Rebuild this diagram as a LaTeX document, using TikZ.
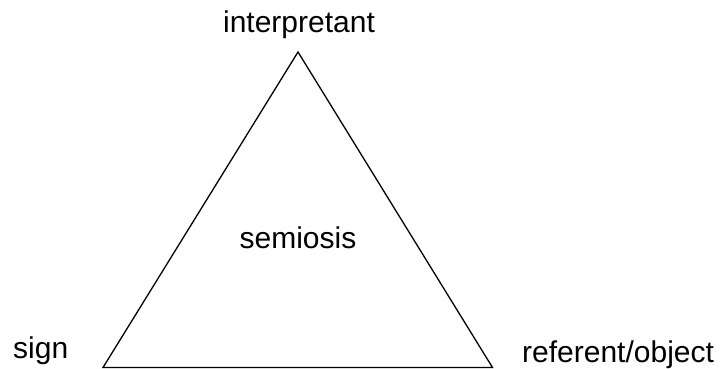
\documentclass[tikz,border=0pt]{standalone}
\usepackage{fontspec}
\setmainfont{Liberation Sans}
\begin{document}
\begin{tikzpicture}[x=1pt,y=1pt,
  lbl/.style={inner sep=0pt,font=\fontsize{30}{36}\selectfont},
  edge/.style={line width=1.3pt,line join=miter}]
\useasboundingbox (0,0) rectangle (721,369);
% triangle corners
\coordinate (top) at (298,317);
\coordinate (left) at (103,1.5);
\coordinate (right) at (492.5,1.5);
\draw[edge] (top) -- (right) -- (left) -- cycle;
% labels
\node[lbl,anchor=base] (interp) at (299,336) {interpretant};
\node[lbl,anchor=base] (semi) at (298,120) {semiosis};
\node[lbl,anchor=base west] (sign) at (13,10) {sign};
\node[lbl,anchor=base west] (ref) at (522,6) {referent/object};
\end{tikzpicture}
\end{document}
